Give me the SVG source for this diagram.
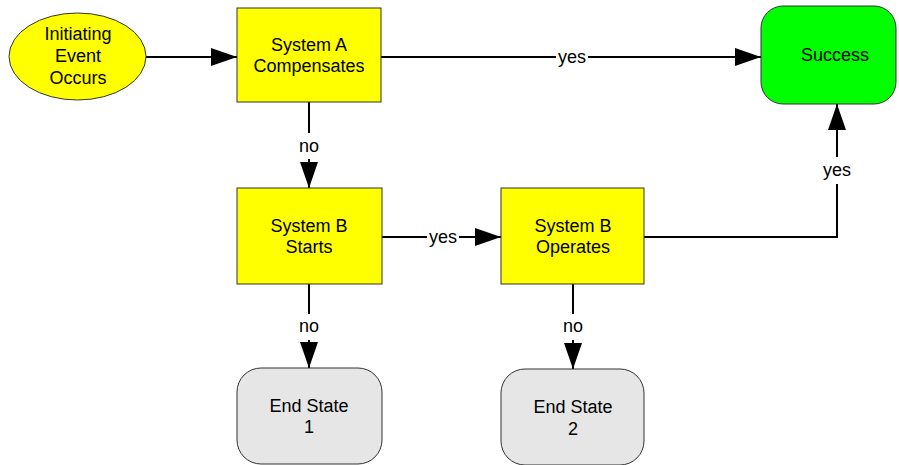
<svg xmlns="http://www.w3.org/2000/svg" width="899" height="465" viewBox="0 0 899 465">
<style>
text{font-family:"Liberation Sans",Arial,sans-serif;font-size:18px;fill:#000;text-anchor:middle}
.box{fill:#ffff00;stroke:#333;stroke-width:1}
.ok{fill:#00ff00;stroke:#333;stroke-width:1}
.end{fill:#e6e6e6;stroke:#333;stroke-width:1}
.ln{fill:none;stroke:#000;stroke-width:2}
.lb{fill:#fff}
</style>
<defs>
<marker id="ah" markerWidth="26" markerHeight="18" refX="26" refY="9" orient="auto" markerUnits="userSpaceOnUse">
<path d="M0,0 L26,9 L0,18 Z" fill="#000"/>
</marker>
</defs>
<rect width="899" height="465" fill="#fff"/>
<g id="connectors">
<line class="ln" x1="146" y1="57" x2="237" y2="57" marker-end="url(#ah)"/>
<line class="ln" x1="381" y1="57" x2="761" y2="57" marker-end="url(#ah)"/>
<rect class="lb" x="556" y="46" width="32" height="22"/>
<text x="572" y="63">yes</text>
<line class="ln" x1="309" y1="102" x2="309" y2="188" marker-end="url(#ah)"/>
<rect class="lb" x="295" y="133" width="28" height="26"/>
<text x="309" y="152">no</text>
<line class="ln" x1="382" y1="237" x2="501" y2="237" marker-end="url(#ah)"/>
<rect class="lb" x="427" y="226" width="32" height="22"/>
<text x="443" y="243">yes</text>
<polyline class="ln" points="644,237 837,237 837,104" marker-end="url(#ah)"/>
<rect class="lb" x="820" y="157" width="34" height="27"/>
<text x="837" y="176">yes</text>
<line class="ln" x1="309" y1="284" x2="309" y2="368" marker-end="url(#ah)"/>
<rect class="lb" x="295" y="314" width="28" height="26"/>
<text x="309" y="332">no</text>
<line class="ln" x1="573" y1="284" x2="573" y2="369" marker-end="url(#ah)"/>
<rect class="lb" x="559" y="314" width="28" height="26"/>
<text x="573" y="332">no</text>
</g>
<g id="initiating">
<ellipse cx="77.5" cy="56.5" rx="68.5" ry="43.5" fill="#ffff00" stroke="#333" stroke-width="1"/>
<text x="78" y="40">Initiating</text>
<text x="78" y="62">Event</text>
<text x="78" y="84">Occurs</text>
</g>
<g id="systemA">
<rect class="box" x="237" y="8" width="144" height="94"/>
<text x="309" y="51">System A</text>
<text x="309" y="72">Compensates</text>
</g>
<g id="success">
<rect class="ok" x="761" y="6" width="135" height="98" rx="22" ry="22"/>
<text x="835" y="61">Success</text>
</g>
<g id="systemBStarts">
<rect class="box" x="237" y="188" width="145" height="96"/>
<text x="309" y="232">System B</text>
<text x="309" y="253">Starts</text>
</g>
<g id="systemBOperates">
<rect class="box" x="501" y="188" width="143" height="96"/>
<text x="573" y="232">System B</text>
<text x="573" y="253">Operates</text>
</g>
<g id="endState1">
<rect class="end" x="237" y="368" width="145" height="96" rx="24" ry="24"/>
<text x="309" y="412">End State</text>
<text x="309" y="433">1</text>
</g>
<g id="endState2">
<rect class="end" x="501" y="369" width="143" height="96" rx="24" ry="24"/>
<text x="573" y="413">End State</text>
<text x="573" y="435">2</text>
</g>
</svg>
